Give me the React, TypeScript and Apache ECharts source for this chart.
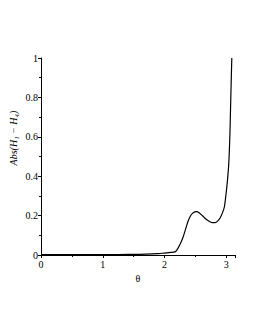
import React, { useEffect, useRef } from "react";
import * as echarts from "echarts";

const thetaValues = [0, 0.3, 0.6, 0.9, 1.2, 1.5, 1.7, 1.9, 2.0, 2.1, 2.17, 2.21, 2.26, 2.3, 2.34, 2.38, 2.42, 2.45, 2.49, 2.52, 2.56, 2.62, 2.68, 2.73, 2.78, 2.82, 2.86, 2.9, 2.94, 2.97, 3.0, 3.02, 3.04, 3.05, 3.06, 3.07, 3.08, 3.09];
const absValues = [0.002, 0.002, 0.002, 0.002, 0.002, 0.003, 0.004, 0.007, 0.01, 0.013, 0.016, 0.03, 0.06, 0.09, 0.13, 0.17, 0.198, 0.21, 0.219, 0.22, 0.215, 0.198, 0.18, 0.17, 0.164, 0.164, 0.172, 0.188, 0.215, 0.245, 0.32, 0.38, 0.46, 0.53, 0.62, 0.75, 0.88, 1.0];
const xTicks = [0, 1, 2, 3];
const yTickLabels = ["0", "0.2", "0.4", "0.6", "0.8", "1"];

export default function App() {
  const ref = useRef<HTMLDivElement>(null);
  useEffect(() => {
    const chart = echarts.init(ref.current!, null, { renderer: "svg" });
    const font = "Liberation Serif";
    chart.setOption({
      animation: false,
      backgroundColor: "#ffffff",
      grid: { left: 41, top: 58, right: 20, bottom: 75, containLabel: false },
      xAxis: {
        type: "value",
        min: 0,
        max: Math.PI,
        interval: 1,
        axisLine: { show: true, lineStyle: { color: "#000", width: 1 } },
        axisTick: { show: true, length: 3, lineStyle: { color: "#000" } },
        minorTick: { show: true, splitNumber: 2, length: 2, lineStyle: { color: "#000" } },
        splitLine: { show: false },
        axisLabel: {
          color: "#000",
          fontFamily: font,
          fontSize: 10,
          margin: 4,
          showMaxLabel: false,
          formatter: (v: number) => (xTicks.includes(v) ? String(v) : ""),
        },
        name: "θ",
        nameLocation: "middle",
        nameGap: 14,
        nameTextStyle: { color: "#000", fontFamily: font, fontSize: 10 },
      },
      yAxis: {
        type: "value",
        min: 0,
        max: 1,
        interval: 0.2,
        axisLine: { show: true, lineStyle: { color: "#000", width: 1 } },
        axisTick: { show: true, length: 3, lineStyle: { color: "#000" } },
        minorTick: { show: true, splitNumber: 2, length: 2, lineStyle: { color: "#000" } },
        splitLine: { show: false },
        axisLabel: {
          color: "#000",
          fontFamily: font,
          fontSize: 10,
          margin: 3,
          formatter: (v: number) => yTickLabels[Math.round(v / 0.2)] ?? "",
        },
      },
      graphic: [
        {
          type: "text",
          x: 13,
          y: 138,
          rotation: Math.PI / 2,
          style: {
            text: "Abs(H₁ − H₄)",
            fill: "#000",
            fontFamily: font,
            fontStyle: "italic",
            fontSize: 10,
            align: "center",
            verticalAlign: "middle",
          },
        },
      ],
      series: [
        {
          type: "line",
          data: thetaValues.map((t, i) => [t, absValues[i]]),
          smooth: 0.3,
          showSymbol: false,
          lineStyle: { color: "#000", width: 1.2 },
        },
      ],
    });
    return () => chart.dispose();
  }, []);
  return <div ref={ref} style={{ width: 255, height: 330, position: "absolute", left: 0, top: 0 }} />;
}
